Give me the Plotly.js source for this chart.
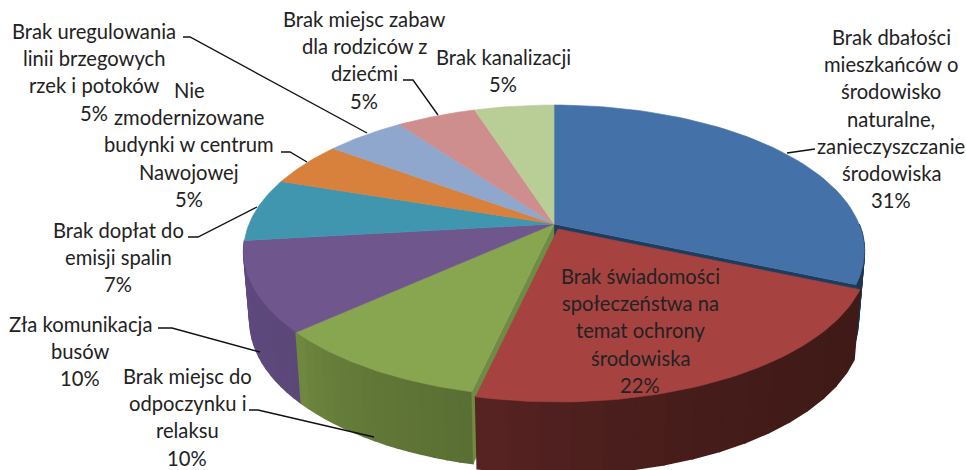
<!DOCTYPE html>
<html><head><meta charset="utf-8">
<script src="https://cdn.plot.ly/plotly-3.0.1.min.js"></script>
<style>html,body{margin:0;padding:0;background:#fff;overflow:hidden}#c{width:966px;height:470px}</style>
</head><body><div id="c"></div>
<script>
const categories = [
  ["Brak dbałości","mieszkańców o","środowisko","naturalne,","zanieczyszczanie","środowiska"],
  ["Brak świadomości","społeczeństwa na","temat ochrony","środowiska"],
  ["Brak miejsc do","odpoczynku i","relaksu"],
  ["Zła komunikacja","busów"],
  ["Brak dopłat do","emisji spalin"],
  ["Nie","zmodernizowane","budynki w centrum","Nawojowej"],
  ["Brak uregulowania","linii brzegowych","rzek i potoków"],
  ["Brak miejsc zabaw","dla rodziców z","dziećmi"],
  ["Brak kanalizacji"]
];
const percentLabels = [31,22,10,10,7,5,5,5,5];
// unrounded shares estimated from the slice edges
const values = [31.49,22.01,9.7,9.9,7,4.95,4.95,4.95,4.95];
const topColors  = ["#4472a8","#a64341","#88a550","#6f568c","#4096ae","#d8813c","#8fa6cd","#ce8e8e","#b9cd96"];
const sideStart  = ["#1f3c5c","#5f2626","#738c42","#5e4a80","#2f7184","#a5622c","#6c7e9c","#9c6b6b","#8c9b72"];
const sideEnd    = ["#1c3654","#3f1a17","#5a6e33","#5c4878","#2f7184","#a5622c","#6c7e9c","#9c6b6b","#8c9b72"];
const cutColors  = ["#1e3d5e","#5f2626","#6f8c45","#5e4a80","#2f7184","#a5622c","#6c7e9c","#9c6b6b","#8c9b72"];
const explode    = [[0,0],[4,5],[0,0],[0,0],[0,0],[0,0],[0,0],[0,0],[0,0]];

// label placement: centre x, first-line y
const labelPos = [[891,37],[640,276],[187,376],[80,324],[118,230],[189,90],[94,31],[364,19],[503,57]];
const leaders = [
  [[787,153],[815,149]],
  [[249,410],[258,410],[374,437]],
  [[158,328],[172,328],[260,352]],
  [[188,237],[198,237],[257,207]],
  [[281,152],[290,152],[307,162]],
  [[183,37],[190,37],[367,133]],
  [[403,80],[413,80],[438,115]]
];
const LINE = 27.2;

// perspective projection of the pie disc
const cx=554, cy=224, R=305, S=141, K=0.185;
function topPt(a,o){const u=Math.sin(a),v=Math.cos(a),d=1+K*v;
  return [cx+R*u/d+o[0], cy-S*v/d+o[1]];}
function botPt(a,o){const p=topPt(a,[0,0]),v=Math.cos(a);
  return [cx+(p[0]-cx)*0.98+o[0], p[1]+69-3*v+o[1]];}
const apexTop=o=>[cx+o[0],cy+o[1]];
const apexBot=o=>[cx+o[0],cy+69+o[1]];

function hex(c){return [1,3,5].map(i=>parseInt(c.substr(i,2),16));}
function mix(a,b,t){const A=hex(a),B=hex(b);return 'rgb('+A.map((x,i)=>Math.round(x+(B[i]-x)*t)).join(',')+')';}
function poly(pts,color,w){
  const xs=pts.map(p=>p[0]), ys=pts.map(p=>p[1]);
  xs.push(xs[0]); ys.push(ys[0]);
  return {type:'scatter',mode:'lines',x:xs,y:ys,fill:'toself',fillcolor:color,
    line:{color:color,width:w},hoverinfo:'skip',showlegend:false};
}
const total=values.reduce((a,b)=>a+b,0);
let acc=0;
const slices=values.map((v,i)=>{const a0=acc/total*2*Math.PI;acc+=v;return {i,a0,a1:acc/total*2*Math.PI};});

function sideTraces(s){
  const o=explode[s.i],out=[],N=16;
  const start=Math.max(s.a0,Math.PI/2);   // the far rim is hidden by the top face
  const A=topPt(start,[0,0])[0],B=topPt(s.a1,[0,0])[0];
  for(let n=0;n<N;n++){
    const b0=start+(s.a1-start)*n/N,b1=start+(s.a1-start)*(n+1)/N;
    // colour runs left to right on screen
    const t=topPt((b0+b1)/2,[0,0])[0];
    const f=Math.max(0,Math.min(1,(t-Math.min(A,B))/(Math.abs(A-B)||1)));
    const pts=[topPt(b0,o),topPt(b1,o),botPt(b1,o),botPt(b0,o)];
    out.push(poly(pts,mix(sideStart[s.i],sideEnd[s.i],Math.pow(f,0.45)),1.6));
  }
  return out;
}
function cutTrace(s,a){
  const o=explode[s.i];
  return poly([apexTop(o),topPt(a,o),botPt(a,o),apexBot(o)],cutColors[s.i],0.4);
}
function topTrace(s){
  const o=explode[s.i],pts=[apexTop(o)],N=60;
  for(let n=0;n<=N;n++) pts.push(topPt(s.a0+(s.a1-s.a0)*n/N,o));
  return poly(pts,topColors[s.i],0.6);
}

const traces=[];
// sides of the front slices, then cut faces behind the separated slice
[...slices].reverse().filter(s=>s.i!==1 && s.a0<1.4*Math.PI).forEach(s=>traces.push(...sideTraces(s)));
traces.push(cutTrace(slices[0],slices[0].a1));
traces.push(cutTrace(slices[2],slices[2].a0));
slices.filter(s=>s.i!==1).forEach(s=>traces.push(topTrace(s)));
// the separated slice on top
traces.push(...sideTraces(slices[1]));
traces.push(topTrace(slices[1]));

leaders.forEach(l=>traces.push({type:'scatter',mode:'lines',x:l.map(p=>p[0]),y:l.map(p=>p[1]),
  line:{color:'#111',width:1.4},hoverinfo:'skip',showlegend:false}));

const annotations=[];
categories.forEach((lines,i)=>{
  [...lines,percentLabels[i]+'%'].forEach((t,n)=>annotations.push({
    text:t,x:labelPos[i][0],y:labelPos[i][1]+n*LINE,xref:'x',yref:'y',showarrow:false,borderpad:0,
    xanchor:'center',yanchor:'middle',font:{family:'Lato, "Open Sans", sans-serif',size:20.2,color:'#222'}
  }));
});

Plotly.newPlot('c',traces,{
  width:966,height:470,margin:{l:0,r:0,t:0,b:0},paper_bgcolor:'#fff',plot_bgcolor:'#fff',
  showlegend:false,hovermode:false,annotations,
  xaxis:{range:[0,966],visible:false,fixedrange:true},
  yaxis:{range:[470,0],visible:false,fixedrange:true}
},{displayModeBar:false,staticPlot:true});
</script></body></html>
